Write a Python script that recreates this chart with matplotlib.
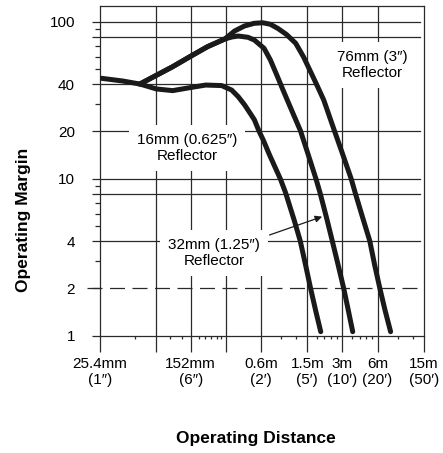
import matplotlib.pyplot as plt
import numpy as np

plt.rcParams['font.family'] = ['Liberation Sans', 'DejaVu Sans']

# operating distance in feet, operating margin (x)
dist_16 = [0.0862, 0.131, 0.183, 0.254, 0.350, 0.490, 0.671, 0.920, 1.122, 1.277,
           1.450, 1.650, 1.758, 1.924, 2.096, 2.366, 2.935, 3.252, 3.849, 4.346,
           4.861, 5.33, 5.87, 6.51]
margin_16 = [43.6, 41.9, 40.1, 37.3, 36.4, 38.0, 39.5, 39.2, 36.7, 33.3,
             29.5, 25.5, 23.7, 20.1, 17.6, 14.2, 9.96, 8.14, 5.46, 4.01,
             2.75, 2.00, 1.46, 1.06]

dist_32 = [0.183, 0.350, 0.490, 0.695, 0.979, 1.122, 1.277, 1.548, 1.758, 2.127,
           2.411, 2.733, 3.093, 3.505, 4.363, 5.09, 5.93, 6.42, 7.31, 8.18,
           9.18, 10.25, 11.2, 12.24]
margin_32 = [40.1, 51.7, 59.8, 69.3, 77.6, 79.9, 81.1, 79.6, 76.4, 67.7,
             57.0, 45.8, 36.7, 29.5, 20.2, 14.2, 9.96, 8.14, 5.62, 4.01,
             2.82, 2.00, 1.46, 1.06]

dist_76 = [0.183, 0.350, 0.490, 0.695, 0.979, 1.189, 1.442, 1.748, 2.076, 2.411,
           2.801, 3.313, 3.972, 4.64, 5.41, 6.11, 6.91, 8.53, 9.95, 11.89,
           12.85, 14.84, 17.15, 18.88, 20.92, 23.13, 25.86]
margin_76 = [40.1, 51.7, 59.8, 69.3, 77.6, 87.3, 93.9, 97.7, 98.5, 96.3,
             90.5, 82.9, 72.9, 59.6, 46.9, 38.7, 31.7, 20.2, 14.6, 9.96,
             8.14, 5.70, 4.01, 2.82, 2.00, 1.46, 1.06]

x_major = [1/12, 0.25, 0.5, 1, 2, 5, 10, 20, 50]
x_labels = ['25.4mm\n(1″)', '', '152mm\n(6″)', '', '0.6m\n(2′)', '1.5m\n(5′)',
            '3m\n(10′)', '6m\n(20′)', '15m\n(50′)']
x_minor = [2/12, 4/12, 5/12, 7/12, 8/12, 9/12, 10/12, 11/12, 3, 4, 6, 7, 8, 9,
           12, 14, 16, 18, 30, 40]
y_major = [1, 2, 4, 8, 10, 20, 40, 80, 100]
y_labels = ['1', '2', '4', '', '10', '20', '40', '', '100']
y_minor = [3, 5, 6, 7, 9, 30, 50, 60, 70, 90]

gc = '#2a2a2a'
fig = plt.figure(figsize=(4.43, 4.53), dpi=100)
ax = fig.add_axes([0.2257, 0.259, 0.7314, 0.7278])
ax.set_xscale('log')
ax.set_yscale('log')
ax.set_xlim(1/12, 50)
ax.set_ylim(1, 126)

# grid
for v in x_major[1:-1]:
    ax.axvline(v, color=gc, lw=0.9, zorder=1)
for h in [100, 80, 20, 10, 8, 4]:
    ax.axhline(h, xmax=0.988, color=gc, lw=0.9, zorder=1)
ax.axhline(40, xmax=0.664, color=gc, lw=0.9, zorder=1)
ax.axhline(2, xmin=-0.04, xmax=0.988, color=gc, lw=0.9, ls=(0, (12, 6)),
           clip_on=False, zorder=1)

for d, m in [(dist_16, margin_16), (dist_32, margin_32), (dist_76, margin_76)]:
    ax.plot(d, m, color='#1a1a1a', lw=3.6, solid_capstyle='round',
            solid_joinstyle='round', zorder=3)

ax.set_xticks(x_major)
ax.set_xticklabels(x_labels)
ax.set_xticks(x_minor, minor=True)
ax.set_xticklabels([], minor=True)
ax.set_yticks(y_major)
ax.set_yticklabels(y_labels)
ax.set_yticks(y_minor, minor=True)
ax.set_yticklabels([], minor=True)
ax.tick_params(axis='x', which='major', length=11.5, width=0.9, color=gc,
               pad=4, labelsize=11)
ax.tick_params(axis='x', which='minor', length=2.5, width=0.9, color=gc)
ax.tick_params(axis='y', which='major', length=6, width=0.9, color=gc,
               pad=12, labelsize=11)
ax.tick_params(axis='y', which='minor', length=3.6, width=0.9, color=gc)
for s in ax.spines.values():
    s.set_color(gc)
    s.set_linewidth(0.9)

box = dict(facecolor='white', edgecolor='none', boxstyle='square,pad=0.5')
ax.text(0.840, 0.821, '76mm (3″)\nReflector', transform=ax.transAxes,
        ha='center', va='center', fontsize=11, bbox=box, zorder=2)
ax.text(0.269, 0.569, '16mm (0.625″)\nReflector', transform=ax.transAxes,
        ha='center', va='center', fontsize=11, bbox=box, zorder=2)
ax.text(0.352, 0.251, '32mm (1.25″)\nReflector', transform=ax.transAxes,
        ha='center', va='center', fontsize=11, bbox=box, zorder=2)
ax.annotate('', xy=(6.69, 5.73), xytext=(2.37, 4.38),
            arrowprops=dict(arrowstyle='-|>', color='#1a1a1a', lw=0.9,
                            mutation_scale=10, shrinkA=0, shrinkB=0), zorder=4)

fig.text(0.577, 0.033, 'Operating Distance', ha='center', va='center',
         fontsize=12.5, fontweight='bold')
fig.text(0.052, 0.514, 'Operating Margin', ha='center', va='center',
         fontsize=12.5, fontweight='bold', rotation=90)

fig.savefig('out.png', dpi=100)
